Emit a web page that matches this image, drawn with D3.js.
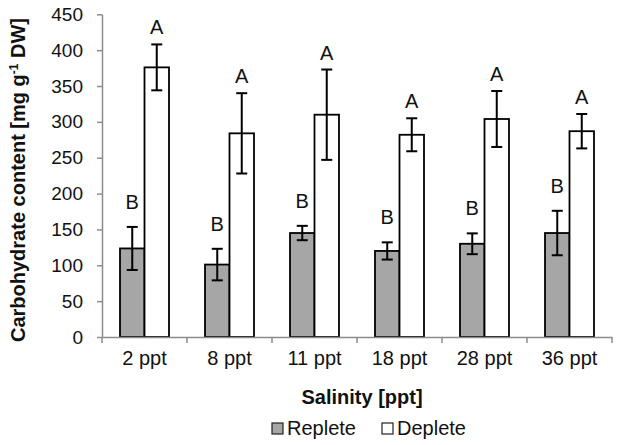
<!DOCTYPE html>
<html>
<head>
<meta charset="utf-8">
<script src="https://cdn.jsdelivr.net/npm/d3@7"></script>
<style>
  html, body { margin: 0; padding: 0; background: #fff; }
  svg { display: block; font-family: "Liberation Sans", Arial, sans-serif; }
</style>
</head>
<body>
<svg id="chart" width="620" height="445"></svg>
<script>
const categories = ["2 ppt", "8 ppt", "11 ppt", "18 ppt", "28 ppt", "36 ppt"];
const seriesNames = ["Replete", "Deplete"];
const repleteValues = [123.5, 101, 145, 120, 130, 145];
const repleteErrors = [30, 22, 10, 12, 14.5, 31];
const depleteValues = [376, 284, 310, 282, 304, 287];
const depleteErrors = [32, 56, 63, 23, 39, 24];
const repleteLetters = ["B", "B", "B", "B", "B", "B"];
const depleteLetters = ["A", "A", "A", "A", "A", "A"];
const yTicks = [0, 50, 100, 150, 200, 250, 300, 350, 400, 450];

const colors = { Replete: "#a6a6a6", Deplete: "#ffffff" };
const axisColor = "#8c8c8c";

const svg = d3.select("#chart");
const plotLeft = 102, plotRight = 612, plotTop = 14.3, plotBottom = 337;

const x = d3.scaleBand().domain(categories).range([plotLeft, plotRight]).padding(0);
const xs = d3.scaleBand().domain(seriesNames).range([0, x.bandwidth()]).paddingInner(0).paddingOuter(0.735);
const y = d3.scaleLinear().domain([0, 450]).range([plotBottom, plotTop]);

const rows = categories.map((c, i) => ({
  cat: c,
  bars: [
    { s: "Replete", v: repleteValues[i], e: repleteErrors[i], letter: repleteLetters[i], off: 18 },
    { s: "Deplete", v: depleteValues[i], e: depleteErrors[i], letter: depleteLetters[i], off: 10 }
  ]
}));

// Y axis
const yAxis = svg.append("g").attr("transform", `translate(${plotLeft},0)`)
  .call(d3.axisLeft(y).tickValues(yTicks).tickSize(5).tickPadding(14).tickSizeOuter(0));
yAxis.select(".domain").attr("stroke", axisColor).attr("stroke-width", 1.5);
yAxis.selectAll(".tick line").attr("stroke", axisColor).attr("stroke-width", 1.5);
yAxis.selectAll(".tick text").attr("font-size", 19).attr("fill", "#111")
  .attr("font-family", "Liberation Sans, Arial, sans-serif");

// Bars
const groups = svg.append("g").selectAll("g").data(rows).join("g")
  .attr("transform", d => `translate(${x(d.cat)},0)`);

groups.selectAll("rect").data(d => d.bars).join("rect")
  .attr("x", d => xs(d.s))
  .attr("y", d => y(d.v))
  .attr("width", xs.bandwidth())
  .attr("height", d => y(0) - y(d.v))
  .attr("fill", d => colors[d.s])
  .attr("stroke", "#000")
  .attr("stroke-width", 1.8);

// Error bars
const eb = groups.selectAll("g.err").data(d => d.bars).join("g").attr("class", "err");
eb.append("line")
  .attr("x1", d => xs(d.s) + xs.bandwidth() / 2)
  .attr("x2", d => xs(d.s) + xs.bandwidth() / 2)
  .attr("y1", d => y(d.v + d.e)).attr("y2", d => y(d.v - d.e))
  .attr("stroke", "#000").attr("stroke-width", 2);
["top", "bot"].forEach(k => {
  eb.append("line")
    .attr("x1", d => xs(d.s) + xs.bandwidth() / 2 - 5.5)
    .attr("x2", d => xs(d.s) + xs.bandwidth() / 2 + 5.5)
    .attr("y1", d => y(k === "top" ? d.v + d.e : d.v - d.e))
    .attr("y2", d => y(k === "top" ? d.v + d.e : d.v - d.e))
    .attr("stroke", "#000").attr("stroke-width", 2);
});

// Letters
groups.selectAll("text.letter").data(d => d.bars).join("text").attr("class", "letter")
  .attr("x", d => xs(d.s) + xs.bandwidth() / 2)
  .attr("y", d => y(d.v + d.e) - d.off)
  .attr("text-anchor", "middle")
  .attr("font-size", 20)
  .attr("fill", "#111")
  .text(d => d.letter);

// X axis
const xAxis = svg.append("g").attr("transform", `translate(0,${plotBottom})`)
  .call(d3.axisBottom(x).tickSize(0).tickPadding(14));
xAxis.select(".domain").attr("stroke", axisColor).attr("stroke-width", 1.5);
xAxis.selectAll(".tick text").attr("font-size", 20).attr("fill", "#111")
  .attr("font-family", "Liberation Sans, Arial, sans-serif");
// category boundary tick marks
const boundaries = categories.map(c => x(c)).concat([x(categories[categories.length - 1]) + x.bandwidth()]);
xAxis.selectAll("line.bound").data(boundaries).join("line").attr("class", "bound")
  .attr("x1", d => d).attr("x2", d => d).attr("y1", 0).attr("y2", 6)
  .attr("stroke", axisColor).attr("stroke-width", 1.5);

// Axis titles
svg.append("text")
  .attr("x", 362).attr("y", 404)
  .attr("text-anchor", "middle")
  .attr("font-size", 20).attr("font-weight", "bold").attr("fill", "#111")
  .text("Salinity [ppt]");

const yt = svg.append("text")
  .attr("transform", "translate(25,180) rotate(-90)")
  .attr("text-anchor", "middle")
  .attr("font-size", 20).attr("font-weight", "bold").attr("fill", "#111");
yt.append("tspan").text("Carbohydrate content [mg g");
yt.append("tspan").attr("dy", -7).attr("font-size", 12).text("-1");
yt.append("tspan").attr("dy", 7).text(" DW]");

// Legend
const legendX = [272, 382];
const lg = svg.append("g").selectAll("g").data(seriesNames).join("g")
  .attr("transform", (d, i) => `translate(${legendX[i]},423)`);
lg.append("rect").attr("width", 11).attr("height", 11)
  .attr("fill", d => colors[d]).attr("stroke", "#222").attr("stroke-width", 1.2);
lg.append("text").attr("x", 15).attr("y", 11.5)
  .attr("font-size", 20).attr("fill", "#111").text(d => d);
</script>
</body>
</html>
